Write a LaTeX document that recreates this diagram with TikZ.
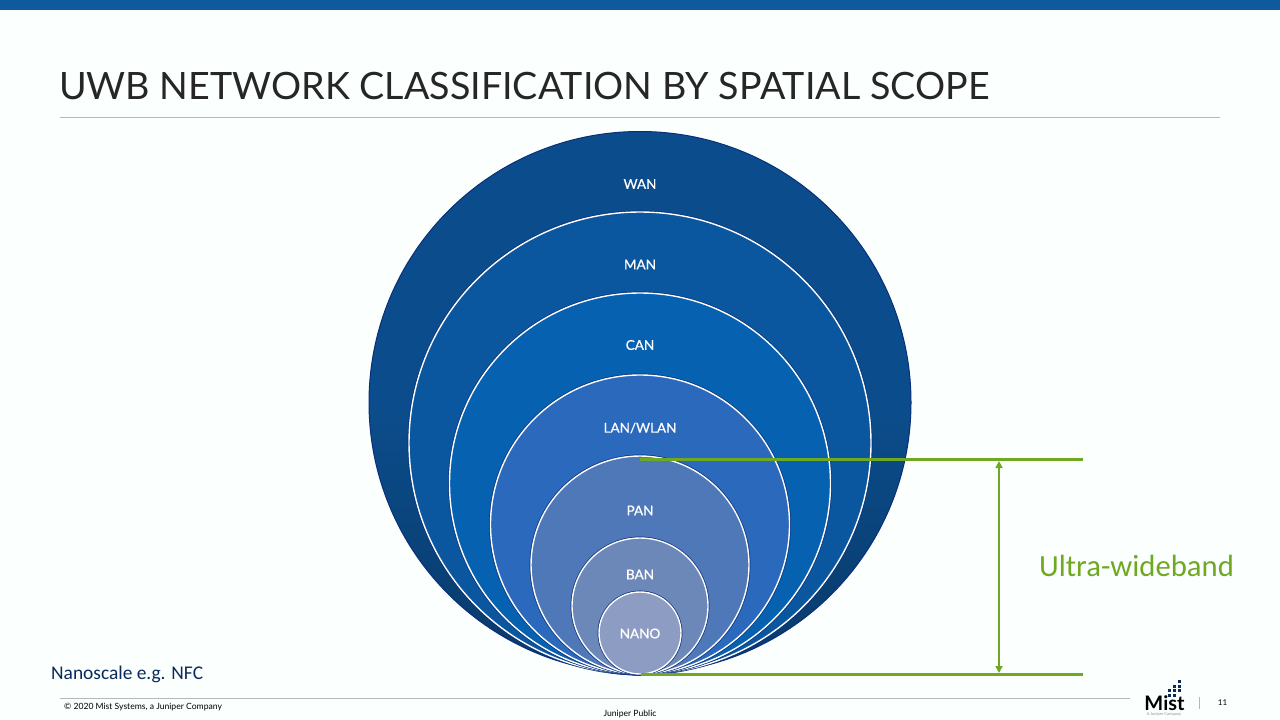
\documentclass[tikz,border=0pt]{standalone}
\usepackage{fontspec}
\setmainfont{Lato}
\newfontfamily\carlito{Carlito}
\newfontfamily\labfont[FakeBold=0.6]{Lato}
\usetikzlibrary{arrows.meta}
\definecolor{bgc}{HTML}{FBFFFD}
\definecolor{barc}{HTML}{0F5A9E}
\definecolor{edgec}{HTML}{0A2F7A}
\definecolor{wanc}{HTML}{0B4D8C}
\definecolor{manc}{HTML}{0A57A0}
\definecolor{canc}{HTML}{0662B0}
\definecolor{lanc}{HTML}{2A69BC}
\definecolor{panc}{HTML}{4F78B8}
\definecolor{banc}{HTML}{6C88B8}
\definecolor{nanoc}{HTML}{8C9CC2}
\definecolor{greenc}{HTML}{6FA821}
\definecolor{navyc}{HTML}{0B2A5C}
\definecolor{rulec}{HTML}{B4B8B8}
\definecolor{titlec}{HTML}{262626}
\tikzset{
  x=1pt,y=-1pt,
  ringlabel/.style={text=white,font=\fontsize{13.5}{15}\selectfont\labfont,inner sep=0pt},
  ring/.style={draw=white,line width=1.4pt},
  hline/.style={draw=greenc,line width=2.8pt},
  dim/.style={draw=greenc,line width=1.6pt,{Triangle[length=7pt,width=7pt]}-{Triangle[length=7pt,width=7pt]}},
  rulel/.style={draw=rulec,line width=0.8pt},
  dot/.style={fill=navyc,draw=none,minimum size=3pt,inner sep=0pt,rectangle},
}
\newcommand{\disc}[3]{\fill[#3] (640,#1) circle[radius=#2];\draw[edgec,line width=1.6pt] (640,#1) circle[radius=#2+0.6];\draw[ring] (640,#1) circle[radius=#2];}
\begin{document}
\begin{tikzpicture}
\useasboundingbox (0,0) rectangle (1280,720);
\fill[bgc] (0,0) rectangle (1280,720);
\fill[barc] (0,0) rectangle (1280,10);
\node[anchor=west,text=titlec,inner sep=0pt,font=\fontsize{37.65}{40}\selectfont] (title) at (59,86.5) {UWB NETWORK CLASSIFICATION BY SPATIAL SCOPE};
\draw[rulel] (60,117.5) -- (1220,117.5);
% circles
\shade[top color=wanc,bottom color=wanc!75!black,middle color=wanc] (640,402.5) circle[radius=271];
\draw[edgec,line width=1pt] (640,402.5) circle[radius=271];
\disc{443}{231}{manc}
\disc{483.5}{190.5}{canc}
\disc{524.5}{149.5}{lanc}
\disc{565}{109}{panc}
\disc{606}{68}{banc}
\disc{633}{41}{nanoc}
\node[ringlabel] (wan) at (640,184) {WAN};
\node[ringlabel] (man) at (640,264.5) {MAN};
\node[ringlabel] (can) at (640,345) {CAN};
\node[ringlabel] (lan) at (640,428) {LAN/WLAN};
\node[ringlabel] (pan) at (640,510.5) {PAN};
\node[ringlabel] (ban) at (640,574.5) {BAN};
\node[ringlabel] (nano) at (640,633.5) {NANO};
% ultra-wideband dimension
\coordinate (ta) at (640,459.5);
\coordinate (tb) at (1083,459.5);
\coordinate (ba) at (641,674.5);
\coordinate (bb) at (1083,674.5);
\coordinate (dt) at (999,461);
\coordinate (db) at (999,673);
\draw[hline] (ta) -- (tb);
\draw[hline] (ba) -- (bb);
\draw[dim] (dt) -- (db);
\node[anchor=west,text=greenc,inner sep=0pt,font=\fontsize{30.7}{34}\selectfont\carlito] (uwb) at (1039,566) {Ultra-wideband};
\node[anchor=west,text=navyc,inner sep=0pt,font=\fontsize{19.4}{22}\selectfont\carlito] (nfc) at (51,674) {Nanoscale e.g. NFC};
% footer
\coordinate (fa) at (60,698.5);
\coordinate (fb) at (1130,698.5);
\draw[rulel] (fa) -- (fb);
\node[anchor=west,text=black,inner sep=0pt,font=\fontsize{8.6}{10}\selectfont] (copy) at (64,707.5) {© 2020 Mist Systems, a Juniper Company};
\node[text=black,inner sep=0pt,font=\fontsize{8.6}{10}\selectfont] (pub) at (630,714.5) {Juniper Public};
\node[text=black,inner sep=0pt,font=\fontsize{8}{10}\selectfont] (page) at (1222.5,703) {11};
\coordinate (sa) at (1199,697);
\coordinate (sb) at (1199,709);
\draw[draw=rulec,line width=1pt] (sa) -- (sb);
% logo
\node[anchor=center,text=black,inner sep=0pt,font=\fontsize{20}{22}\selectfont\bfseries] (mist) at (1164.5,703) {Mist};
\node[text=rulec!80!black,inner sep=0pt,font=\fontsize{4}{5}\selectfont] (co) at (1164,714.5) {A Juniper Company};
\foreach \p [count=\i] in {{1179.5,681},{1179.5,686},{1179.5,690.5},{1174.5,686},{1174.5,690.5},{1169.5,690.5},{1174.5,695},{1169.5,695}}
  \node[dot] (d\i) at (\p) {};
\end{tikzpicture}
\end{document}
